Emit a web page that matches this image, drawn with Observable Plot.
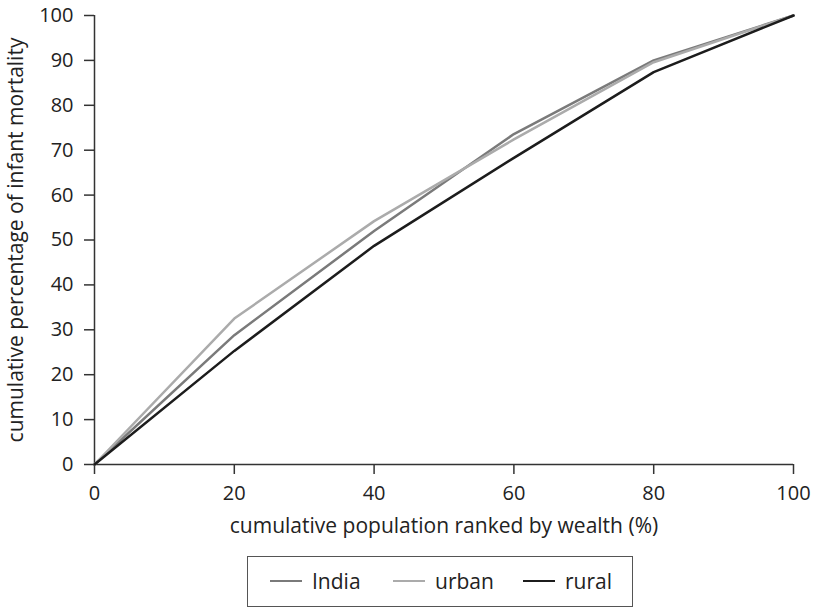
<!DOCTYPE html>
<html>
<head>
<meta charset="utf-8">
<script src="https://cdn.jsdelivr.net/npm/d3@7"></script>
<script src="https://cdn.jsdelivr.net/npm/@observablehq/plot@0.6"></script>
<style>
  body { margin: 0; background: #fff; font-family: "Open Sans", sans-serif; }
  #wrap { position: relative; width: 814px; height: 608px; }
  #legend { position: absolute; left: 247px; top: 556px; width: 386px; height: 51px; box-sizing: border-box;
    border: 1.5px solid #555; font-size: 21px; color: #222; }
  .item { position: absolute; top: 0; height: 48px; display: flex; align-items: center; }
  .sw { display: inline-block; width: 32px; height: 0; border-top: 2.5px solid; margin-right: 10px; }
</style>
</head>
<body>
<div id="wrap"><div id="chart"></div><div id="legend"></div></div>
<script>
const xValues = [0, 20, 40, 60, 80, 100];
const seriesNames = ["India", "urban", "rural"];
const seriesColors = ["#7a7a7a", "#ababab", "#1c1c1c"];
const india = [0, 28.8, 52.0, 73.6, 90.0, 100];
const urban = [0, 32.5, 54.2, 72.4, 89.6, 100];
const rural = [0, 25.3, 48.7, 68.3, 87.4, 100];
const xTicks = [0, 20, 40, 60, 80, 100];
const yTicks = [0, 10, 20, 30, 40, 50, 60, 70, 80, 90, 100];

const seriesValues = [india, urban, rural];
const data = [];
seriesNames.forEach((name, i) => {
  xValues.forEach((x, j) => data.push({series: name, x, y: seriesValues[i][j]}));
});

const chart = Plot.plot({
  width: 814,
  height: 540,
  marginLeft: 94,
  marginRight: 21,
  marginTop: 15,
  marginBottom: 76,
  style: { fontFamily: "Open Sans, sans-serif", fontSize: "21px", color: "#222" },
  x: { domain: [0, 100] },
  y: { domain: [0, 100] },
  color: { domain: seriesNames, range: seriesColors },
  marks: [
    Plot.axisX({ ticks: xTicks, tickSize: 10, tickPadding: 11, fontSize: 20, stroke: "#333", strokeWidth: 1.5, label: null }),
    Plot.axisX({ ticks: [], tickSize: 0, fontSize: 21,
      label: "cumulative population ranked by wealth (%)", labelAnchor: "center", labelArrow: "none", labelOffset: 68 }),
    Plot.axisY({ ticks: yTicks, tickSize: 10, tickPadding: 11, fontSize: 20, stroke: "#333", strokeWidth: 1.5, label: null }),
    Plot.axisY({ ticks: [], tickSize: 0, fontSize: 21,
      label: "cumulative percentage of infant mortality", labelAnchor: "center", labelArrow: "none", labelOffset: 86 }),
    Plot.ruleX([0], { stroke: "#333", strokeWidth: 1.5 }),
    Plot.ruleY([0], { stroke: "#333", strokeWidth: 1.5 }),
    Plot.line(data, { x: "x", y: "y", z: "series", stroke: "series", strokeWidth: 2.5 })
  ]
});
document.getElementById("chart").appendChild(chart);

const legend = document.getElementById("legend");
const lefts = [22, 145, 275];
seriesNames.forEach((name, i) => {
  const it = document.createElement("div");
  it.className = "item";
  it.style.left = lefts[i] + "px";
  const sw = document.createElement("span");
  sw.className = "sw";
  sw.style.borderTopColor = seriesColors[i];
  it.appendChild(sw);
  it.appendChild(document.createTextNode(name));
  legend.appendChild(it);
});
</script>
</body>
</html>
